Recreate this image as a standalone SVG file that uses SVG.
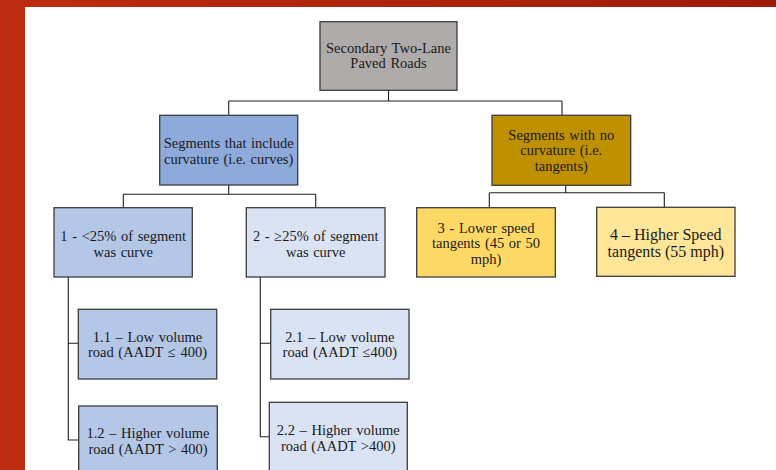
<svg xmlns="http://www.w3.org/2000/svg" width="776" height="470" viewBox="0 0 776 470">
<defs>
<linearGradient id="bg" x1="0" y1="0" x2="1" y2="0">
<stop offset="0" stop-color="#bd2d10"/>
<stop offset="1" stop-color="#9e1a08"/>
</linearGradient>
</defs>
<style>
.box{stroke:#3c3c3c;stroke-width:1.3}
.t{font-family:"Liberation Serif","Times New Roman",serif;font-size:14.5px;fill:#1a1a1a;text-anchor:middle;word-spacing:1px}
.big{font-size:16px;word-spacing:0}
.c{fill:none;stroke:#1e1e1e;stroke-width:1.1}
</style>
<rect x="0" y="0" width="776" height="470" fill="url(#bg)"/>
<rect x="25" y="7" width="751" height="463" fill="#ffffff"/>
<g id="connectors">
<path class="c" d="M388.5 90.3V101M228.7 101H562M228.7 101V115.3M562 101V115.3"/>
<path class="c" d="M228.7 185V194.3M123.3 194.3H315.7M123.3 194.3V207.7M315.7 194.3V207.7"/>
<path class="c" d="M565.7 185.3V192.7M489.3 192.7H664.3M489.3 192.7V207.7M664.3 192.7V207.3"/>
<path class="c" d="M68.3 277V440H78.7M68.3 343.3H78.3"/>
<path class="c" d="M260.3 277V436.7H269.3M260.3 343.3H270.7"/>
</g>
<g id="root">
<rect class="box" x="320" y="21.7" width="137" height="68.6" fill="#afabaa"/>
<text class="t" x="388.5" y="52.5">Secondary Two-Lane</text>
<text class="t" x="388.5" y="68">Paved Roads</text>
</g>
<g id="curves">
<rect class="box" x="159.7" y="115.3" width="138" height="69.7" fill="#8eaadb"/>
<text class="t" x="228.7" y="148">Segments that include</text>
<text class="t" x="228.7" y="164">curvature (i.e. curves)</text>
</g>
<g id="tangents">
<rect class="box" x="492" y="115.3" width="138.7" height="70" fill="#bf9000"/>
<text class="t" x="561.3" y="139.5">Segments with no</text>
<text class="t" x="561.3" y="155">curvature (i.e.</text>
<text class="t" x="561.3" y="170.5">tangents)</text>
</g>
<g id="n1">
<rect class="box" x="54" y="207.7" width="138.3" height="69.3" fill="#b4c7e7"/>
<text class="t" x="123.2" y="240.5">1 - &lt;25% of segment</text>
<text class="t" x="123.2" y="256.5">was curve</text>
</g>
<g id="n2">
<rect class="box" x="246.3" y="207.7" width="138.7" height="69.3" fill="#dae3f3"/>
<text class="t" x="315.7" y="240.5">2 - ≥25% of segment</text>
<text class="t" x="315.7" y="256.5">was curve</text>
</g>
<g id="n3">
<rect class="box" x="416.7" y="207.7" width="138.6" height="69.3" fill="#ffd966"/>
<text class="t" x="486" y="232.5">3 - Lower speed</text>
<text class="t" x="486" y="248">tangents (45 or 50</text>
<text class="t" x="486" y="263.5">mph)</text>
</g>
<g id="n4">
<rect class="box" x="596.7" y="207.3" width="138.3" height="69" fill="#ffe699"/>
<text class="t big" x="665.8" y="239.5">4 – Higher Speed</text>
<text class="t big" x="665.8" y="257">tangents (55 mph)</text>
</g>
<g id="n11">
<rect class="box" x="78.3" y="309.3" width="138.4" height="69.7" fill="#b4c7e7"/>
<text class="t" x="147.5" y="341.5">1.1 – Low volume</text>
<text class="t" x="147.5" y="357">road (AADT ≤ 400)</text>
</g>
<g id="n12">
<rect class="box" x="78.7" y="406" width="138.6" height="80" fill="#b4c7e7"/>
<text class="t" x="148" y="438">1.2 – Higher volume</text>
<text class="t" x="148" y="453.5">road (AADT &gt; 400)</text>
</g>
<g id="n21">
<rect class="box" x="270.7" y="309.3" width="138.3" height="69.7" fill="#dae3f3"/>
<text class="t" x="339.8" y="341.5">2.1 – Low volume</text>
<text class="t" x="339.8" y="357">road (AADT ≤400)</text>
</g>
<g id="n22">
<rect class="box" x="269.3" y="402.3" width="138" height="80" fill="#dae3f3"/>
<text class="t" x="338.3" y="435">2.2 – Higher volume</text>
<text class="t" x="338.3" y="450.5">road (AADT &gt;400)</text>
</g>
</svg>
